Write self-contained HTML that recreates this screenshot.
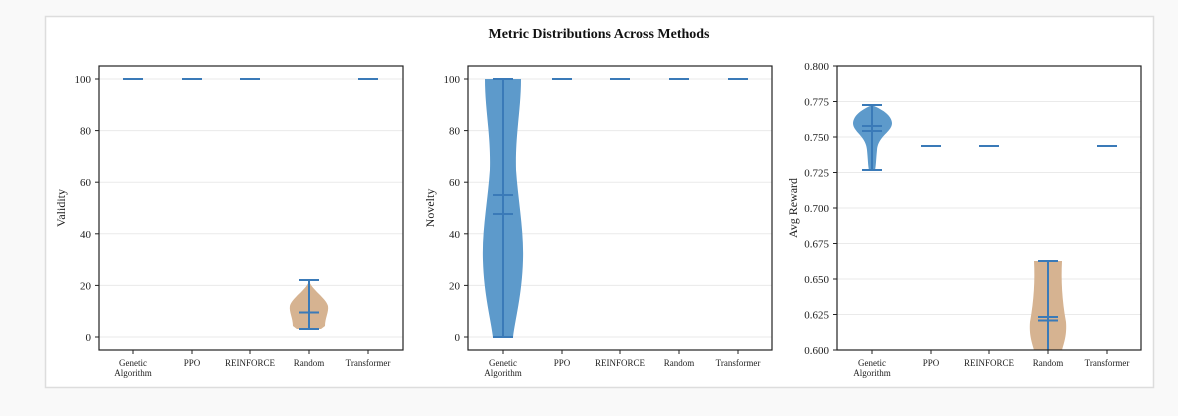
<!DOCTYPE html>
<html><head><meta charset="utf-8"><style>
body{margin:0;background:#f9f9f9;}
svg{display:block;font-family:"Liberation Serif",serif;}
</style></head><body>
<svg width="1178" height="416" viewBox="0 0 1178 416">
<rect x="0" y="0" width="1178" height="416" fill="#f9f9f9"/>
<rect x="45.5" y="16.5" width="1108" height="371" fill="#fff" stroke="#ddd" stroke-width="1.5"/>
<text x="599" y="38" text-anchor="middle" font-size="14" font-weight="bold" fill="#111">Metric Distributions Across Methods</text>

<!-- Panel 1 -->
<g stroke="#eaeaea" stroke-width="1">
<line x1="99" x2="403" y1="79" y2="79"/><line x1="99" x2="403" y1="130.6" y2="130.6"/><line x1="99" x2="403" y1="182.2" y2="182.2"/><line x1="99" x2="403" y1="233.8" y2="233.8"/><line x1="99" x2="403" y1="285.4" y2="285.4"/><line x1="99" x2="403" y1="337" y2="337"/>
</g>
<g font-size="11" fill="#222" text-anchor="end">
<text x="91" y="83">100</text><text x="91" y="134.6">80</text><text x="91" y="186.2">60</text><text x="91" y="237.8">40</text><text x="91" y="289.4">20</text><text x="91" y="341">0</text>
</g>
<g stroke="#222"><line x1="95" x2="99" y1="79" y2="79"/><line x1="95" x2="99" y1="130.6" y2="130.6"/><line x1="95" x2="99" y1="182.2" y2="182.2"/><line x1="95" x2="99" y1="233.8" y2="233.8"/><line x1="95" x2="99" y1="285.4" y2="285.4"/><line x1="95" x2="99" y1="337" y2="337"/>
<line x1="133" x2="133" y1="350" y2="354"/><line x1="192" x2="192" y1="350" y2="354"/><line x1="250" x2="250" y1="350" y2="354"/><line x1="309" x2="309" y1="350" y2="354"/><line x1="368" x2="368" y1="350" y2="354"/></g>
<text transform="translate(65,208) rotate(-90)" text-anchor="middle" font-size="12" fill="#222">Validity</text>
<g font-size="9" fill="#222" text-anchor="middle">
<text x="133" y="366">Genetic</text><text x="133" y="376">Algorithm</text><text x="192" y="366">PPO</text><text x="250" y="366">REINFORCE</text><text x="309" y="366">Random</text><text x="368" y="366">Transformer</text>
</g>
<path d="M309,281 C306,290 292,298 290,306 C289,312 293,318 293,326 L297,329 L321,329 L325,326 C325,318 329,312 328,306 C326,298 312,290 309,281Z" fill="#d6b391"/>
<g stroke="#3a7ab8" stroke-width="2">
<line x1="123" x2="143" y1="79" y2="79"/><line x1="182" x2="202" y1="79" y2="79"/><line x1="240" x2="260" y1="79" y2="79"/><line x1="358" x2="378" y1="79" y2="79"/>
<line x1="309" x2="309" y1="280" y2="329"/><line x1="299" x2="319" y1="280" y2="280"/><line x1="299" x2="319" y1="329" y2="329"/><line x1="299" x2="319" y1="312.5" y2="312.5"/>
</g>
<rect x="99" y="66" width="304" height="284" fill="none" stroke="#222" stroke-width="1.2"/>

<!-- Panel 2 -->
<g stroke="#eaeaea" stroke-width="1">
<line x1="468" x2="772" y1="79" y2="79"/><line x1="468" x2="772" y1="130.6" y2="130.6"/><line x1="468" x2="772" y1="182.2" y2="182.2"/><line x1="468" x2="772" y1="233.8" y2="233.8"/><line x1="468" x2="772" y1="285.4" y2="285.4"/><line x1="468" x2="772" y1="337" y2="337"/>
</g>
<g font-size="11" fill="#222" text-anchor="end">
<text x="460" y="83">100</text><text x="460" y="134.6">80</text><text x="460" y="186.2">60</text><text x="460" y="237.8">40</text><text x="460" y="289.4">20</text><text x="460" y="341">0</text>
</g>
<g stroke="#222"><line x1="464" x2="468" y1="79" y2="79"/><line x1="464" x2="468" y1="130.6" y2="130.6"/><line x1="464" x2="468" y1="182.2" y2="182.2"/><line x1="464" x2="468" y1="233.8" y2="233.8"/><line x1="464" x2="468" y1="285.4" y2="285.4"/><line x1="464" x2="468" y1="337" y2="337"/>
<line x1="503" x2="503" y1="350" y2="354"/><line x1="562" x2="562" y1="350" y2="354"/><line x1="620" x2="620" y1="350" y2="354"/><line x1="679" x2="679" y1="350" y2="354"/><line x1="738" x2="738" y1="350" y2="354"/></g>
<text transform="translate(434,208) rotate(-90)" text-anchor="middle" font-size="12" fill="#222">Novelty</text>
<g font-size="9" fill="#222" text-anchor="middle">
<text x="503" y="366">Genetic</text><text x="503" y="376">Algorithm</text><text x="562" y="366">PPO</text><text x="620" y="366">REINFORCE</text><text x="679" y="366">Random</text><text x="738" y="366">Transformer</text>
</g>
<path d="M485,79 L521,79 C521,110 515,135 516,170 C518,200 524,230 523,260 C522,295 515,320 513,337 L493,337 C491,320 484,295 483,260 C482,230 488,200 490,170 C491,135 485,110 485,79Z" fill="#5d9acb"/>
<g stroke="#3a7ab8" stroke-width="2">
<line x1="493" x2="513" y1="79" y2="79"/><line x1="493" x2="513" y1="337" y2="337"/><line x1="503" x2="503" y1="79" y2="337"/>
<line x1="493" x2="513" y1="195" y2="195"/><line x1="493" x2="513" y1="214" y2="214"/>
<line x1="552" x2="572" y1="79" y2="79"/><line x1="610" x2="630" y1="79" y2="79"/><line x1="669" x2="689" y1="79" y2="79"/><line x1="728" x2="748" y1="79" y2="79"/>
</g>
<rect x="468" y="66" width="304" height="284" fill="none" stroke="#222" stroke-width="1.2"/>

<!-- Panel 3 -->
<g stroke="#eaeaea" stroke-width="1">
<line x1="837" x2="1141" y1="101.5" y2="101.5"/><line x1="837" x2="1141" y1="137" y2="137"/><line x1="837" x2="1141" y1="172.5" y2="172.5"/><line x1="837" x2="1141" y1="208" y2="208"/><line x1="837" x2="1141" y1="243.5" y2="243.5"/><line x1="837" x2="1141" y1="279" y2="279"/><line x1="837" x2="1141" y1="314.5" y2="314.5"/>
</g>
<g font-size="11" fill="#222" text-anchor="end">
<text x="829" y="70">0.800</text><text x="829" y="105.5">0.775</text><text x="829" y="141">0.750</text><text x="829" y="176.5">0.725</text><text x="829" y="212">0.700</text><text x="829" y="247.5">0.675</text><text x="829" y="283">0.650</text><text x="829" y="318.5">0.625</text><text x="829" y="354">0.600</text>
</g>
<g stroke="#222"><line x1="833" x2="837" y1="66" y2="66"/><line x1="833" x2="837" y1="101.5" y2="101.5"/><line x1="833" x2="837" y1="137" y2="137"/><line x1="833" x2="837" y1="172.5" y2="172.5"/><line x1="833" x2="837" y1="208" y2="208"/><line x1="833" x2="837" y1="243.5" y2="243.5"/><line x1="833" x2="837" y1="279" y2="279"/><line x1="833" x2="837" y1="314.5" y2="314.5"/><line x1="833" x2="837" y1="350" y2="350"/>
<line x1="872" x2="872" y1="350" y2="354"/><line x1="931" x2="931" y1="350" y2="354"/><line x1="989" x2="989" y1="350" y2="354"/><line x1="1048" x2="1048" y1="350" y2="354"/><line x1="1107" x2="1107" y1="350" y2="354"/></g>
<text transform="translate(797,208) rotate(-90)" text-anchor="middle" font-size="12" fill="#222">Avg Reward</text>
<g font-size="9" fill="#222" text-anchor="middle">
<text x="872" y="366">Genetic</text><text x="872" y="376">Algorithm</text><text x="931" y="366">PPO</text><text x="989" y="366">REINFORCE</text><text x="1048" y="366">Random</text><text x="1107" y="366">Transformer</text>
</g>
<path d="M872,105 C866,108 854,113 853,123 C853,132 866,136 867,150 C868,160 868,166 869,170 L875,170 C876,166 876,160 877,150 C878,136 892,132 892,123 C891,113 878,108 872,105Z" fill="#5d9acb"/>
<path d="M1034,261 L1062,261 C1061,280 1062,300 1066,322 C1067,335 1064,343 1062,350 L1034,350 C1032,343 1029,335 1030,322 C1034,300 1035,280 1034,261Z" fill="#d6b391"/>
<g stroke="#3a7ab8" stroke-width="2">
<line x1="862" x2="882" y1="105" y2="105"/><line x1="862" x2="882" y1="170" y2="170"/><line x1="872" x2="872" y1="105" y2="170"/>
<line x1="862" x2="882" y1="126" y2="126"/><line x1="862" x2="882" y1="131" y2="131"/>
<line x1="921" x2="941" y1="146" y2="146"/><line x1="979" x2="999" y1="146" y2="146"/><line x1="1097" x2="1117" y1="146" y2="146"/>
<line x1="1038" x2="1058" y1="261" y2="261"/><line x1="1048" x2="1048" y1="261" y2="350"/><line x1="1038" x2="1058" y1="317" y2="317"/><line x1="1038" x2="1058" y1="320.5" y2="320.5"/>
</g>
<rect x="837" y="66" width="304" height="284" fill="none" stroke="#222" stroke-width="1.2"/>
</svg>
</body></html>
